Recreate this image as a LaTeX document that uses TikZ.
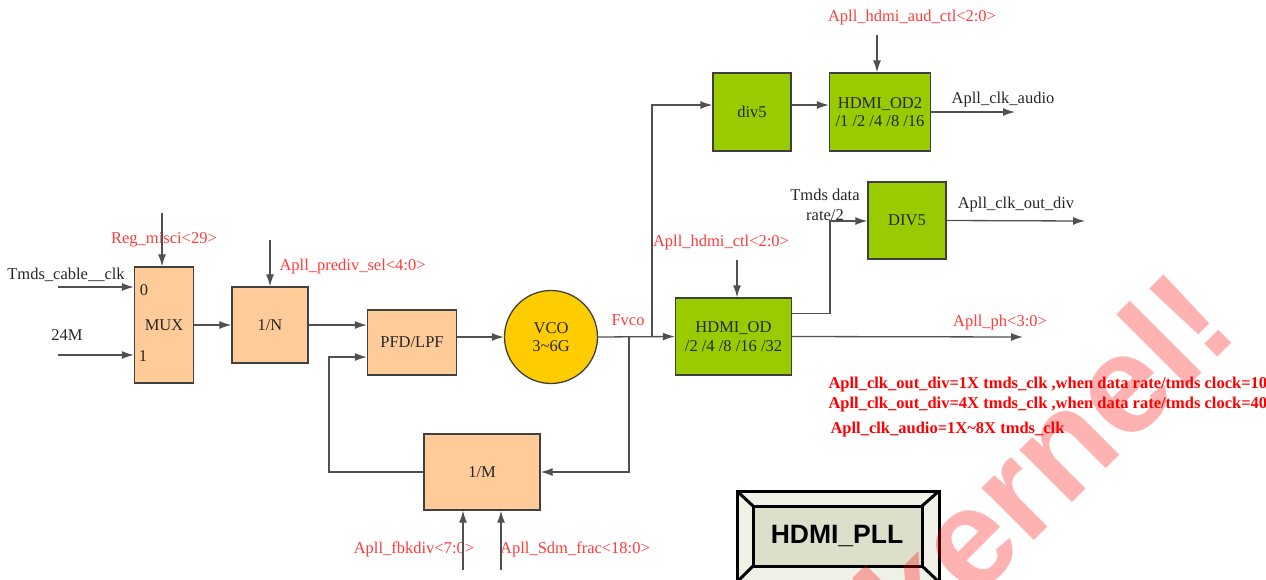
\documentclass[tikz,border=0pt]{standalone}
\usepackage{fontspec}
\setmainfont{Liberation Serif}
\newfontfamily\wmfont{Liberation Sans}
\usepackage{tikz}
\usetikzlibrary{positioning,arrows.meta,shapes.geometric,calc}
\definecolor{peach}{HTML}{FFCC99}
\definecolor{lime}{HTML}{99CC00}
\definecolor{vcoyel}{HTML}{FFCC00}
\definecolor{sigred}{HTML}{FF3B3B}
\definecolor{linegray}{HTML}{505050}
\definecolor{bevout}{HTML}{EFF0E6}
\definecolor{bevin}{HTML}{DCE0CA}

\begin{document}
\begin{tikzpicture}[x=1pt, y=-1pt,
  every node/.style={font=\fontsize{16.5}{18.5}\selectfont, text=black!85},
  blk/.style  ={draw=black!75, line width=1.3pt, fill=#1, inner sep=0pt,
                align=center},
  sig/.style  ={text=sigred},
  note/.style ={font=\bfseries\fontsize{16.5}{18.5}\selectfont, text=red, anchor=west},
  arr/.style  ={-{Latex[length=12pt, width=8pt]}, draw=linegray, line width=1.3pt},
  ln/.style   ={draw=linegray, line width=1.3pt}]

\useasboundingbox (0,0) rectangle (1266,579);

%% Input selector and pre divider
\node[blk=peach, minimum width=59pt, minimum height=116pt] (mux)  at (164,325) {MUX};
\node (mux0) at (144,290) {0};
\node (mux1) at (143,356) {1};
\node[blk=peach, minimum width=76pt, minimum height=76pt]  (divn) at (270,325) {1/N};

%% Loop: PFD, VCO and feedback divider
\node[blk=peach, minimum width=89pt, minimum height=65pt]  (pfd)  at (412,342.5) {PFD/LPF};
\node[blk=vcoyel, circle, minimum size=93pt] (vco) at (551,337) {VCO\\3\textasciitilde6G};
\node[blk=peach, minimum width=116pt, minimum height=76pt] (divm) at (482,472) {1/M};

%% Output dividers
\node[blk=lime, minimum width=78pt, minimum height=78pt]   (div5) at (752,112) {div5};
\node[blk=lime, minimum width=101pt, minimum height=78pt]  (od2)  at (880,112) {HDMI\_OD2\\/1 /2 /4 /8 /16};
\node[blk=lime, minimum width=116pt, minimum height=77pt]  (od)   at (733.5,336.5) {HDMI\_OD\\/2 /4 /8 /16 /32};
\node[blk=lime, minimum width=78pt, minimum height=77pt]   (dv5)  at (907,220.5) {DIV5};

%% Free ends of the connectors
\coordinate (tin)    at (58,287);
\coordinate (min)    at (58,355);
\coordinate (selm)   at (162,213);
\coordinate (seln)   at (270,240);
\coordinate (fb)     at (329,357);
\coordinate (tapm)   at (629,337);
\coordinate (tapd)   at (652,337);
\coordinate (fbk)    at (463,570);
\coordinate (sdm)    at (501,570);
\coordinate (audtop) at (877,35);
\coordinate (audout) at (1015,112);
\coordinate (ctltop) at (737,260);
\coordinate (bend)   at (830,221);
\coordinate (divout) at (1085,221);
\coordinate (phout)  at (1023,337);

%% Labels
\node (tlab) at (66,275) {Tmds\_cable\_\_clk};
\node (mlab) at (67,335) {24M};
\node[sig] (reglab)  at (164,240) {Reg\_misci<29>};
\node[sig, anchor=west] (prelab) at (276,267) {Apll\_prediv\_sel<4:0>};
\node[sig] (fvco)    at (628,320) {Fvco};
\node[sig] (fbklab)  at (414,549) {Apll\_fbkdiv<7:0>};
\node[sig] (sdmlab)  at (575,549) {Apll\_Sdm\_frac<18:0>};
\node[sig] (audlab)  at (912,18)  {Apll\_hdmi\_aud\_ctl<2:0>};
\node (alab)  at (1003,100) {Apll\_clk\_audio};
\node[sig] (ctllab)  at (721,243) {Apll\_hdmi\_ctl<2:0>};
\node[align=center, font=\fontsize{16.5}{19.5}\selectfont] (tdlab) at (825,205) {Tmds data\\rate/2};
\node (dlab)  at (1016,205) {Apll\_clk\_out\_div};
\node[sig] (phlab)   at (1000,323) {Apll\_ph<3:0>};

%% Notes
\node[note] (n1) at (825,385) {Apll\_clk\_out\_div=1X tmds\_clk ,when data rate/tmds clock=10};
\node[note] (n2) at (825,405) {Apll\_clk\_out\_div=4X tmds\_clk ,when data rate/tmds clock=40};
\node[note] (n3) at (827,430) {Apll\_clk\_audio=1X\textasciitilde8X tmds\_clk};

%% Arrows
\draw[arr] (tin) -- (tin -| mux.west);
\draw[arr] (min) -- (min -| mux.west);
\draw[arr] (selm) -- (selm |- mux.north);
\draw[arr] (mux) -- (divn);
\draw[arr] (seln) -- (seln |- divn.north);
\draw[arr] (divn.east) -- (divn.east -| pfd.west);
\draw[arr] (pfd.east |- vco) -- (vco.west);
\draw[arr] (vco.east) -- (od.west);
\draw[arr] (tapm) |- (divm.east);
\draw[arr] (divm.west) -| (fb) -- (fb -| pfd.west);
\draw[arr] (fbk) -- (fbk |- divm.south);
\draw[arr] (sdm) -- (sdm |- divm.south);
\draw[arr] (tapd) |- ([yshift=7pt]div5.west);
\draw[arr] ([yshift=7pt]div5.east) -- ([yshift=7pt]div5.east -| od2.west);
\draw[arr] (audtop) -- (audtop |- od2.north);
\draw[arr] (od2.east) -- (audout);
\draw[arr] (ctltop) -- (ctltop |- od.north);
\draw[arr] ([yshift=23pt]od.east) -| (bend) -- (bend -| dv5.west);
\draw[arr] (dv5.east) -- (divout);
\draw[arr] (od.east) -- (phout);

%% HDMI_PLL title plate
\fill[bevout] (737,491) rectangle (939,582);
\fill[bevin]  (753,506) rectangle (922,566);
\draw[line width=3pt] (737,491) rectangle (939,582);
\draw[line width=3pt] (753,506) rectangle (922,566);
\draw[line width=3pt] (737,491) -- (753,506) (939,491) -- (922,506)
                      (737,582) -- (753,566) (939,582) -- (922,566);
\node[font=\wmfont\bfseries\fontsize{26.5}{26.5}\selectfont, text=black] (pll) at (837,536) {HDMI\_PLL};

%% Watermark
\node[font=\wmfont\bfseries\fontsize{140}{140}\selectfont, text=red, text opacity=0.3,
      rotate=45] (wm) at (1044,460) {kernel!};
\end{tikzpicture}
\end{document}
